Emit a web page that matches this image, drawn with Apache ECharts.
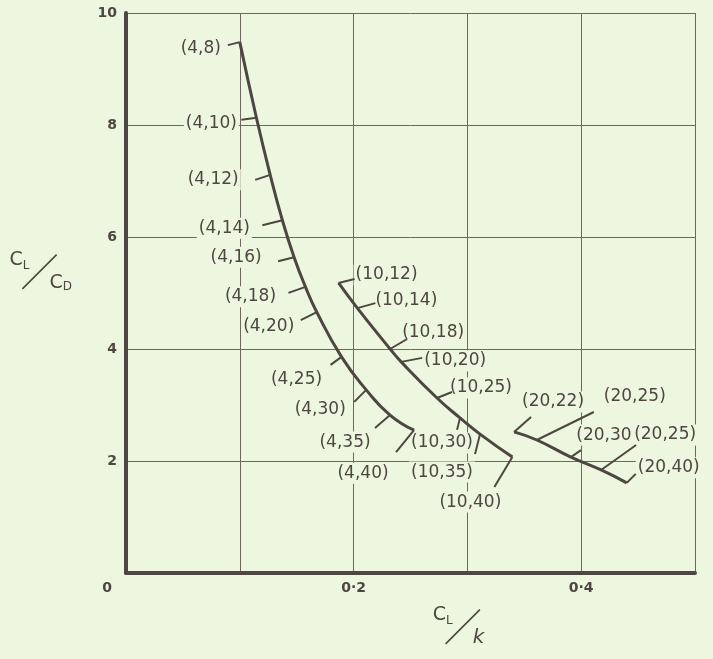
<!DOCTYPE html>
<html><head><meta charset="utf-8">
<script src="https://cdn.jsdelivr.net/npm/echarts@6/dist/echarts.min.js"></script>
<style>html,body{margin:0;padding:0;background:#edf7e0}#c{width:713px;height:659px}</style>
</head><body><div id="c"></div>
<script>
// ---- data ----
const labels4 = ['(4,8)','(4,10)','(4,12)','(4,14)','(4,16)','(4,18)','(4,20)','(4,25)','(4,30)','(4,35)','(4,40)'];
const clk4  = [0.100,0.1146,0.1267,0.1374,0.1477,0.1577,0.1676,0.1894,0.2111,0.2320,0.2531];
const clcd4 = [9.48,8.13,7.11,6.30,5.64,5.11,4.66,3.86,3.27,2.82,2.55];

const labels10 = ['(10,12)','(10,14)','(10,18)','(10,20)','(10,25)','(10,30)','(10,35)','(10,40)'];
const clk10  = [0.1868,0.2033,0.2321,0.2418,0.2733,0.2935,0.3111,0.3395];
const clcd10 = [5.18,4.73,4.00,3.77,3.125,2.77,2.48,2.07];

const labels20 = ['(20,22)','(20,25)','(20,30','(20,25)','(20,40)'];
const clk20  = [0.341,0.361,0.391,0.4175,0.440];
const clcd20 = [2.52,2.375,2.07,1.84,1.61];

const yTicks = [0,2,4,6,8,10];
const xTickText = {0:'0', 0.2:'0·2', 0.4:'0·4'};

// ---- annotation layout (pixel offsets of tick ends and label centres) ----
const tick4 = [[-12,3],[-15,2],[-15,5],[-20,5],[-16,4],[-17,6],[-16,8],[-11,8],[-12,12],[-15,13],[-18,22]];
const lab4  = [[-39,6],[-45,6],[-57,5],[-58,8],[-58,0],[-55,10],[-48,15],[-45,23],[-46,20],[-45,27],[-51,43]];
const tick10 = [[16,-4],[18,-5],[17,-10],[21,-4],[15,-6],[-3,12],[-5,20],[-18,30]];
const lab10  = [[48,-8],[49,-8],[43,-16],[54,-1],[44,-10],[-18,25],[-38,38],[-42,45]];
const tick20 = [[17,-15],[57,-28],[10,-7],[35,-25],[9,-9]];
const lab20  = [[39,-30],[98,-43],[33,-22],[64,-35],[42,-15]];

const BG = '#edf7e0';
const INK = '#4e4640';
const GRID = '#6f685e';
const FONT = 'DejaVu Sans';

function family(labels, xs, ys, ticks, offs) {
  const data = xs.map((x, i) => [x, ys[i]]);
  return [
    { type: 'line', data, smooth: 0.5, symbol: 'none', z: 3,
      lineStyle: { color: INK, width: 3 } },
    { type: 'custom', data, z: 4,
      renderItem: (p, api) => {
        const c = api.coord([api.value(0), api.value(1)]);
        const t = ticks[p.dataIndex];
        return { type: 'line',
          shape: { x1: c[0], y1: c[1], x2: c[0] + t[0], y2: c[1] + t[1] },
          style: { stroke: INK, lineWidth: 2 } };
      } },
    { type: 'custom', data, z: 2,
      renderItem: (p, api) => {
        const c = api.coord([api.value(0), api.value(1)]);
        const o = offs[p.dataIndex];
        return { type: 'text', x: c[0] + o[0], y: c[1] + o[1],
          style: { text: labels[p.dataIndex], fill: INK, fontSize: 17, fontFamily: FONT,
            align: 'center', verticalAlign: 'middle', backgroundColor: BG, padding: [2, 2] } };
      } }
  ];
}

const slashStyle = { fontSize: 38, lineHeight: 42, width: 20, align: 'left',
  fontFamily: 'Noto Sans CJK SC', color: INK };

const chart = echarts.init(document.getElementById('c'));
chart.setOption({
  backgroundColor: BG,
  animation: false,
  grid: { left: 126, right: 18, top: 13, bottom: 86, outerBoundsMode: 'none', containLabel: false },
  xAxis: {
    type: 'value', min: 0, max: 0.5, interval: 0.1,
    axisLine: { lineStyle: { color: INK, width: 4 } },
    axisTick: { show: false },
    splitLine: { lineStyle: { color: GRID, width: 1 } },
    axisLabel: {
      showMinLabel: true, showMaxLabel: true, margin: 8,
      color: INK, fontSize: 14, fontWeight: 'bold', fontFamily: FONT,
      formatter: v => { const k = Math.round(v * 10) / 10; const s = xTickText[k];
        return s === undefined ? '' : (k === 0 ? '{z|0}' : s); },
      rich: { z: { color: INK, fontSize: 14, fontWeight: 'bold', fontFamily: FONT, padding: [0, 38, 0, 0] } }
    },
    name: '{c|C}{s|L}{sl|／}{k|k}',
    nameLocation: 'middle', nameGap: 33,
    nameTextStyle: {
      padding: [0, 0, 0, 96],
      rich: {
        c: { fontSize: 19, fontFamily: FONT, color: INK, verticalAlign: 'top' },
        s: { fontSize: 12, fontFamily: FONT, color: INK, verticalAlign: 'top', padding: [9, 0, 0, 0] },
        sl: slashStyle,
        k: { fontSize: 20, fontFamily: FONT, fontStyle: 'italic', color: INK, verticalAlign: 'bottom' }
      }
    }
  },
  yAxis: {
    type: 'value', min: 0, max: 10, interval: 2,
    axisLine: { show: true, lineStyle: { color: INK, width: 4 } },
    axisTick: { show: false },
    splitLine: { lineStyle: { color: GRID, width: 1 } },
    axisLabel: { margin: 9, color: INK, fontSize: 14, fontWeight: 'bold', fontFamily: FONT,
      formatter: v => (yTicks.indexOf(v) > 0 ? String(v) : '') },
    name: '{c|C}{s|L}{sl|／}{d|C}{ds|D}',
    nameLocation: 'middle', nameRotate: 0, nameGap: 54,
    nameTextStyle: {
      padding: [0, 0, 42, 0],
      rich: {
        c: { fontSize: 19, fontFamily: FONT, color: INK, verticalAlign: 'top' },
        s: { fontSize: 12, fontFamily: FONT, color: INK, verticalAlign: 'top', padding: [9, 0, 0, 0] },
        sl: slashStyle,
        d: { fontSize: 19, fontFamily: FONT, color: INK, verticalAlign: 'bottom' },
        ds: { fontSize: 12, fontFamily: FONT, color: INK, verticalAlign: 'bottom' }
      }
    }
  },
  series: [
    ...family(labels4, clk4, clcd4, tick4, lab4),
    ...family(labels10, clk10, clcd10, tick10, lab10),
    ...family(labels20, clk20, clcd20, tick20, lab20)
  ]
});
</script>
</body></html>
